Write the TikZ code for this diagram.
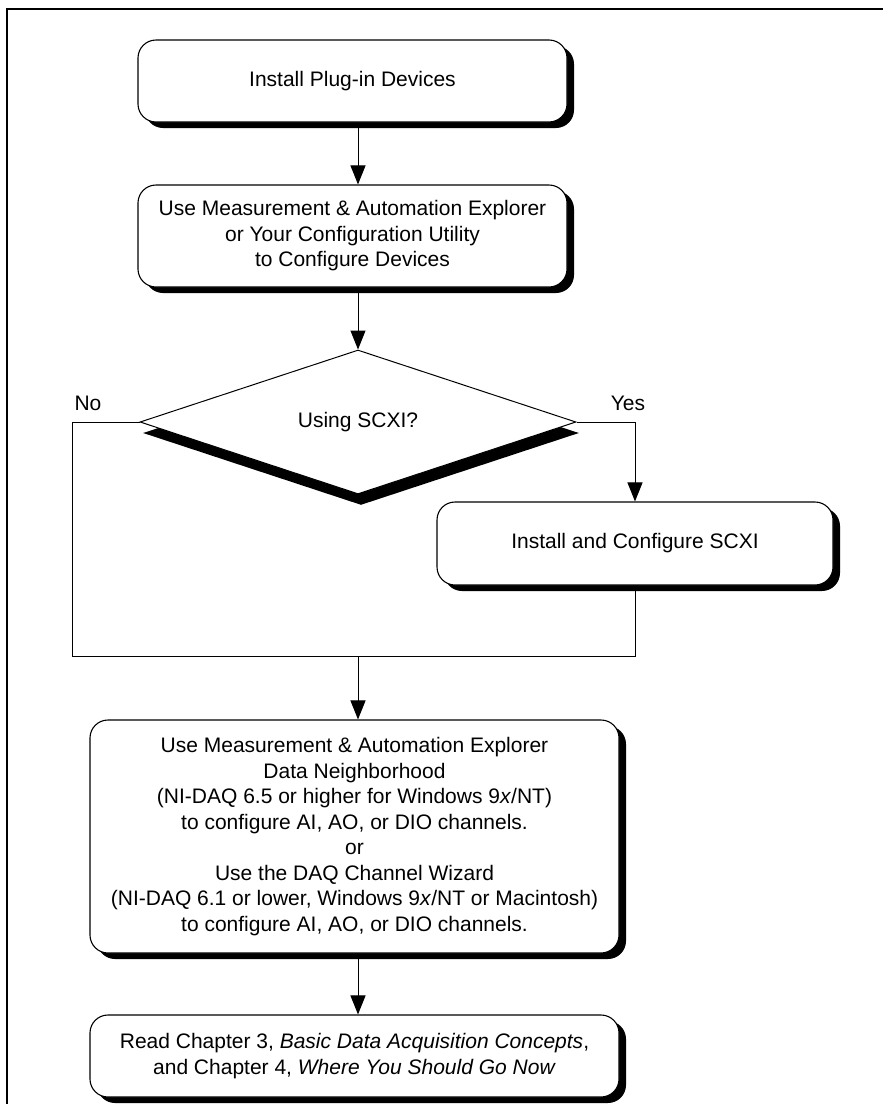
\documentclass[tikz,border=0pt]{standalone}
\usepackage{fontspec}
\setmainfont{Liberation Sans}
\usetikzlibrary{shapes.geometric,arrows.meta,shadows}

\begin{document}
\begin{tikzpicture}[x=1pt,y=-1pt,
		txt/.style={font=\fontsize{21}{25.5}\selectfont},
		stepbox/.style={txt,draw,line width=1.1pt,fill=white,rounded corners=18pt,align=center,inner sep=0pt,
			drop shadow={shadow xshift=7pt,shadow yshift=-6pt,fill=black,opacity=1}},
		query/.style={txt,draw,line width=1pt,fill=white,diamond,aspect=3,inner sep=0pt,
			minimum width=436pt,minimum height=144pt,
			drop shadow={shadow xshift=3pt,shadow yshift=-11pt,fill=black,opacity=1}},
		flow/.style={line width=1pt,-{Triangle[length=19pt,width=15pt]}},
		link/.style={line width=1pt}]
		\useasboundingbox (0,0) rectangle (883,1114);
		\draw [line width=2pt](7,1104) |- (883,9);
		
		\node[stepbox,minimum width=429pt,minimum height=82pt] (install) at (352.5,81) {Install Plug-in Devices};
		\node[stepbox,minimum width=429pt,minimum height=102pt] (config) at (352.5,236) {Use Measurement \& Automation Explorer\\or Your Configuration Utility\\to Configure Devices};
		\node[query] (scxi) at (358,422) {\raisebox{-5pt}{Using SCXI?}};
		\node[txt] (nolbl) at (88,403) {No};
		\node[txt] (yeslbl) at (628,403) {Yes};
		\node[stepbox,minimum width=396pt,minimum height=83pt] (setup) at (635,543.5) {Install and Configure SCXI};
		\coordinate (nocorner) at (72,656);
		\coordinate (merge) at (358,656);
		\node[stepbox,minimum width=529pt,minimum height=233pt] (channels) at (354.5,836.5) {Use Measurement \& Automation Explorer\\Data Neighborhood\\(NI-DAQ 6.5 or higher for Windows 9\textit{x}/NT)\\to configure AI, AO, or DIO channels.\\or\\Use the DAQ Channel Wizard\\(NI-DAQ 6.1 or lower, Windows 9\textit{x}/NT or Macintosh)\\to configure AI, AO, or DIO channels.};
		\node[stepbox,minimum width=529pt,minimum height=82pt] (read) at (354.5,1056) {Read Chapter 3, \textit{Basic Data Acquisition Concepts},\\and Chapter 4, \textit{Where You Should Go Now}};
		
		\draw[flow] (install.south -| scxi.north) -- (config.north -| scxi.north);
		\draw[flow] (config.south -| scxi.north) -- (scxi.north);
		\draw[link] (scxi.west) -| (nocorner) -- (merge);
		\draw[flow] (scxi.east) -| (setup.north);
		\draw[link] (setup.south) |- (merge);
		\draw[flow] (merge) -- (channels.north -| merge);
		\draw[flow] (channels.south -| merge) -- (read.north -| merge);
	\end{tikzpicture}
\end{document}
